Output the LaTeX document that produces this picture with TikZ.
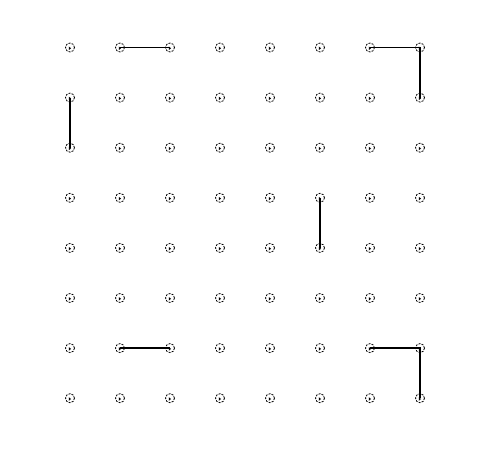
\documentclass[tikz,border=0pt]{standalone}
\begin{document}
\begin{tikzpicture}[x=1pt,y=1pt,
  gdot/.style={circle,draw=black,dashed,dash pattern=on 2pt off 1.2pt,line width=0.8pt,minimum size=9pt,inner sep=0pt},
  seg/.style={line width=1.6pt,black}]
\useasboundingbox (0,0) rectangle (493,448);
\foreach \i in {0,...,7}{
  \foreach \j in {0,...,7}{
    \pgfmathsetmacro{\xx}{70+50*\i}
    \pgfmathsetmacro{\yy}{448-(47.5+50.1*\j)}
    \node[gdot] (d-\i-\j) at (\xx,\yy) {};
    \fill[black] ([shift={(1,-0.8)}]d-\i-\j.center) -- ++(-2.2,1.8) -- ++(0,-3.6) -- cycle;
  }
}
\draw[seg] (d-1-0.center) -- (d-2-0.center);
\draw[seg] (d-6-0.center) -- (d-7-0.center) -- (d-7-1.center);
\draw[seg] (d-0-1.center) -- (d-0-2.center);
\draw[seg] (d-5-3.center) -- (d-5-4.center);
\draw[seg] (d-1-6.center) -- (d-2-6.center);
\draw[seg] (d-6-6.center) -- (d-7-6.center) -- (d-7-7.center);
\end{tikzpicture}
\end{document}
